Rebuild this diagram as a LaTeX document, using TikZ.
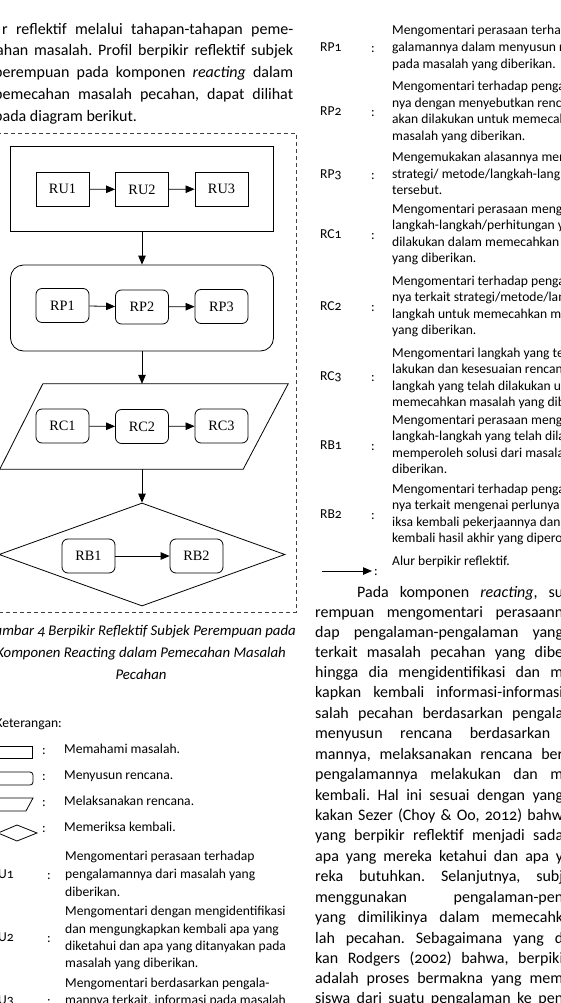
\documentclass[tikz,border=0pt]{standalone}
\usepackage{fontspec}
\setmainfont{Carlito}[Numbers=OldStyle]
\newfontfamily\timesf{Liberation Serif}
\usetikzlibrary{arrows.meta,shapes.geometric,calc}
\frenchspacing
\newcommand{\parafont}{\fontsize{16}{19}\selectfont}
\newcommand{\capfont}{\fontsize{14.8}{18}\selectfont\itshape}
\newcommand{\smallf}{\fontsize{13.6}{16}\selectfont}
% justified line: name, x, y, width, text
\newcommand{\JL}[5]{\node[anchor=mid west,inner sep=0pt,font=\parafont] (#1) at (#2,#3) {\makebox[#4pt][s]{#5}};}
% plain paragraph line
\newcommand{\PL}[4]{\node[anchor=mid west,inner sep=0pt,font=\parafont] (#1) at (#2,#3) {#4};}
% small line
\newcommand{\SL}[4]{\node[anchor=mid west,inner sep=0pt,font=\smallf] (#1) at (#2,#3) {#4};}
\tikzset{
  outer/.style={draw, line width=0.8pt, inner sep=0pt},
  inbox/.style={draw, line width=0.8pt, minimum width=53pt, minimum height=34pt, inner sep=0pt, font=\timesf\fontsize{14.3}{16}\selectfont},
  rinbox/.style={inbox, rounded corners=6pt},
  flow/.style={line width=0.8pt, -{Triangle[length=9pt,width=7.5pt]}},
  frame/.style={line width=0.7pt, draw=black!75, dash pattern=on 4pt off 3pt},
  lshape/.style={line width=0.8pt},
  colon/.style={anchor=mid, inner sep=0pt, font=\smallf},
}
\begin{document}
\begin{tikzpicture}[x=1pt,y=-1pt]
\useasboundingbox (0,0) rectangle (560,1003);
\clip (0,0) rectangle (560,1003);
\fill[white] (0,0) rectangle (560,1003);

% ---------- left paragraph ----------
\JL{l1}{2}{32}{291}{r reflektif melalui tahapan-tahapan peme-}
\JL{l2}{-4}{53.5}{297}{ahan masalah. Profil berpikir reflektif subjek}
\JL{l3}{-6}{75}{299}{perempuan pada komponen \textit{reacting} dalam}
\JL{l4}{-6}{97}{299}{pemecahan masalah pecahan, dapat dilihat}
\PL{l5}{-6}{119}{pada diagram berikut.}

% ---------- diagram ----------
\draw[frame] (-5,133) rectangle (296,612);

\node[outer, minimum width=263pt, minimum height=85pt] (ru) at (142,188.5) {};
\node[inbox] (ru1) at (62.5,189) {RU1};
\node[inbox] (ru2) at (142,189.5) {RU2};
\node[inbox] (ru3) at (221.5,189) {RU3};
\draw[flow] (ru1) -- (ru2);
\draw[flow] (ru2) -- (ru3);

\node[outer, rounded corners=13pt, minimum width=263pt, minimum height=86pt] (rp) at (142,308) {};
\node[rinbox] (rp1) at (62.5,305.5) {RP1};
\node[rinbox] (rp2) at (142,307) {RP2};
\node[rinbox] (rp3) at (221.5,306.5) {RP3};
\draw[flow] (rp1) -- (rp2);
\draw[flow] (rp2) -- (rp3);

\node[inner sep=0pt, minimum width=288pt, minimum height=85pt] (rc) at (144,426.5) {};
\draw[line width=0.8pt] ($(rc.north west)+(43,0)$) -- (rc.north east) -- ($(rc.south east)+(-45,0)$) -- (rc.south west) -- cycle;
\node[rinbox] (rc1) at (62.5,426) {RC1};
\node[rinbox] (rc2) at (142,426.5) {RC2};
\node[rinbox] (rc3) at (221.5,426) {RC3};
\draw[flow] (rc1) -- (rc2);
\draw[flow] (rc2) -- (rc3);

\node[diamond, draw, line width=0.8pt, minimum width=286pt, minimum height=103pt, inner sep=0pt] (rb) at (142,554.5) {};
\node[rinbox] (rb1) at (88.5,556) {RB1};
\node[rinbox] (rb2) at (196.5,556) {RB2};
\draw[flow] (rb1) -- (rb2);

\draw[flow] (ru.south) -- (rp.north);
\draw[flow] (rp.south) -- (rp.south |- rc.north);
\draw[flow] (rp.south |- rc.south) -- (rb.north);

% ---------- caption ----------
\node[anchor=mid east, inner sep=0pt, font=\capfont] (cap1) at (296,633) {Gambar 4 Berpikir Reflektif Subjek Perempuan pada};
\node[anchor=mid east, inner sep=0pt, font=\capfont] (cap2) at (286,655) {Komponen Reacting dalam Pemecahan Masalah};
\node[anchor=mid, inner sep=0pt, font=\capfont] (cap3) at (141,677) {Pecahan};

% ---------- legend ----------
\node[anchor=mid east, inner sep=0pt, font=\smallf] (ket) at (62,725) {Keterangan:};
\draw[lshape] (-30,746) rectangle (32,758);
\draw[lshape, rounded corners=3pt] (-30,772) rectangle (33,785);
\draw[lshape] (-25,798) -- (33,798) -- (26,811) -- (-30,811);
\draw[lshape] (-2,833) -- (17,825) -- (37,833) -- (17,841) -- cycle;
\node[colon] (c1) at (44,752) {:};
\node[colon] (c2) at (44,778) {:};
\node[colon] (c3) at (44,804) {:};
\node[colon] (c4) at (44,830) {:};
\SL{k1}{64}{751}{Memahami masalah.}
\SL{k2}{64}{777}{Menyusun rencana.}
\SL{k3}{64}{803}{Melaksanakan rencana.}
\SL{k4}{64}{829}{Memeriksa kembali.}

\node[anchor=mid east, inner sep=0pt, font=\smallf] (lru1) at (14,876) {RU1};
\node[colon] (cu1) at (49,877) {:};
\SL{u1a}{65}{858}{Mengomentari perasaan terhadap}
\SL{u1b}{65}{876}{pengalamannya dari masalah yang}
\SL{u1c}{65}{894}{diberikan.}
\node[anchor=mid east, inner sep=0pt, font=\smallf] (lru2) at (14,939) {RU2};
\node[colon] (cu2) at (49,940) {:};
\SL{u2a}{65}{913}{Mengomentari dengan mengidentifikasi}
\SL{u2b}{65}{931}{dan mengungkapkan kembali apa yang}
\SL{u2c}{65}{948}{diketahui dan apa yang ditanyakan pada}
\SL{u2d}{65}{965}{masalah yang diberikan.}
\node[anchor=mid east, inner sep=0pt, font=\smallf] (lru3) at (14,1002) {RU3};
\node[colon] (cu3) at (49,1003) {:};
\SL{u3a}{65}{985}{Mengomentari berdasarkan pengala-}
\SL{u3b}{65}{1002}{mannya terkait, informasi pada masalah}

% ---------- right table ----------
\SL{lrp1}{320}{49}{RP1}\node[colon] (crp1) at (373,50) {:};
\SL{rp1a}{392}{32}{Mengomentari perasaan terhadap pen-}
\SL{rp1b}{392}{49}{galamannya dalam menyusun rencana}
\SL{rp1c}{392}{66}{pada masalah yang diberikan.}
\SL{lrp2}{320}{113}{RP2}\node[colon] (crp2) at (373,114) {:};
\SL{rp2a}{392}{88}{Mengomentari terhadap pengalaman-}
\SL{rp2b}{392}{105}{nya dengan menyebutkan rencana yang}
\SL{rp2c}{392}{121.5}{akan dilakukan untuk memecahkan}
\SL{rp2d}{392}{138}{masalah yang diberikan.}
\SL{lrp3}{320}{176}{RP3}\node[colon] (crp3) at (373,177) {:};
\SL{rp3a}{392}{159.5}{Mengemukakan alasannya memilih}
\SL{rp3b}{392}{176}{strategi/ metode/langkah-langkah}
\SL{rp3c}{392}{192.5}{tersebut.}
\SL{lrc1}{320}{236}{RC1}\node[colon] (crc1) at (373,237) {:};
\SL{rc1a}{392}{211}{Mengomentari perasaan mengenai}
\SL{rc1b}{392}{227.5}{langkah-langkah/perhitungan yang}
\SL{rc1c}{392}{244}{dilakukan dalam memecahkan masalah}
\SL{rc1d}{392}{260.5}{yang diberikan.}
\SL{lrc2}{320}{308}{RC2}\node[colon] (crc2) at (373,309) {:};
\SL{rc2a}{392}{283}{Mengomentari terhadap pengalaman-}
\SL{rc2b}{392}{299.5}{nya terkait strategi/metode/langkah-}
\SL{rc2c}{392}{316}{langkah untuk memecahkan masalah}
\SL{rc2d}{392}{332.5}{yang diberikan.}
\SL{lrc3}{320}{378}{RC3}\node[colon] (crc3) at (373,379) {:};
\SL{rc3a}{392}{355}{Mengomentari langkah yang telah di-}
\SL{rc3b}{392}{371.5}{lakukan dan kesesuaian rencana dan}
\SL{rc3c}{392}{388}{langkah yang telah dilakukan untuk}
\SL{rc3d}{392}{404.5}{memecahkan masalah yang diberikan.}
\SL{lrb1}{320}{447}{RB1}\node[colon] (crb1) at (373,448) {:};
\SL{rb1a}{392}{422}{Mengomentari perasaan mengenai}
\SL{rb1b}{392}{438.5}{langkah-langkah yang telah dilakukan}
\SL{rb1c}{392}{455}{memperoleh solusi dari masalah yang}
\SL{rb1d}{392}{471.5}{diberikan.}
\SL{lrb2}{320}{516}{RB2}\node[colon] (crb2) at (373,517) {:};
\SL{rb2a}{392}{491}{Mengomentari terhadap pengalaman-}
\SL{rb2b}{392}{507.5}{nya terkait mengenai perlunya memer-}
\SL{rb2c}{392}{524}{iksa kembali pekerjaannya dan memeriksa}
\SL{rb2d}{392}{540.5}{kembali hasil akhir yang diperoleh.}
\coordinate (la1) at (322,571);
\coordinate (la2) at (372,571);
\draw[flow] (la1) -- (la2);
\node[colon] (calur) at (376,573) {:};
\SL{alur}{392}{563}{Alur berpikir reflektif.}

% ---------- right paragraph ----------
\JL{r1}{357}{595}{206}{Pada komponen \textit{reacting}, su}
\JL{r2}{315}{615}{248}{rempuan mengomentari perasaann}
\JL{r3}{315}{635}{248}{dap pengalaman-pengalaman yang}
\JL{r4}{315}{655}{248}{terkait masalah pecahan yang dibe}
\JL{r5}{315}{675}{248}{hingga dia mengidentifikasi dan m}
\JL{r6}{315}{695.5}{248}{kapkan kembali informasi-informasi}
\JL{r7}{315}{716}{248}{salah pecahan berdasarkan pengala}
\JL{r8}{315}{736}{235}{menyusun rencana berdasarkan}
\JL{r9}{315}{757}{248}{mannya, melaksanakan rencana ber}
\JL{r10}{315}{777}{248}{pengalamannya melakukan dan m}
\JL{r11}{315}{798}{248}{kembali. Hal ini sesuai dengan yang}
\JL{r12}{315}{818}{248}{kakan Sezer (Choy \& Oo, 2012) bahw}
\JL{r13}{315}{838}{248}{yang berpikir reflektif menjadi sada}
\JL{r14}{315}{859}{248}{apa yang mereka ketahui dan apa y}
\JL{r15}{315}{879}{248}{reka butuhkan. Selanjutnya, subj}
\JL{r16}{315}{900}{248}{menggunakan pengalaman-pen}
\JL{r17}{315}{920}{248}{yang dimilikinya dalam memecahk}
\JL{r18}{315}{941}{248}{lah pecahan. Sebagaimana yang d}
\JL{r19}{315}{961}{248}{kan Rodgers (2002) bahwa, berpiki}
\JL{r20}{315}{981}{248}{adalah proses bermakna yang mem}
\JL{r21}{315}{1001}{248}{siswa dari suatu pengalaman ke pen}
\end{tikzpicture}
\end{document}
